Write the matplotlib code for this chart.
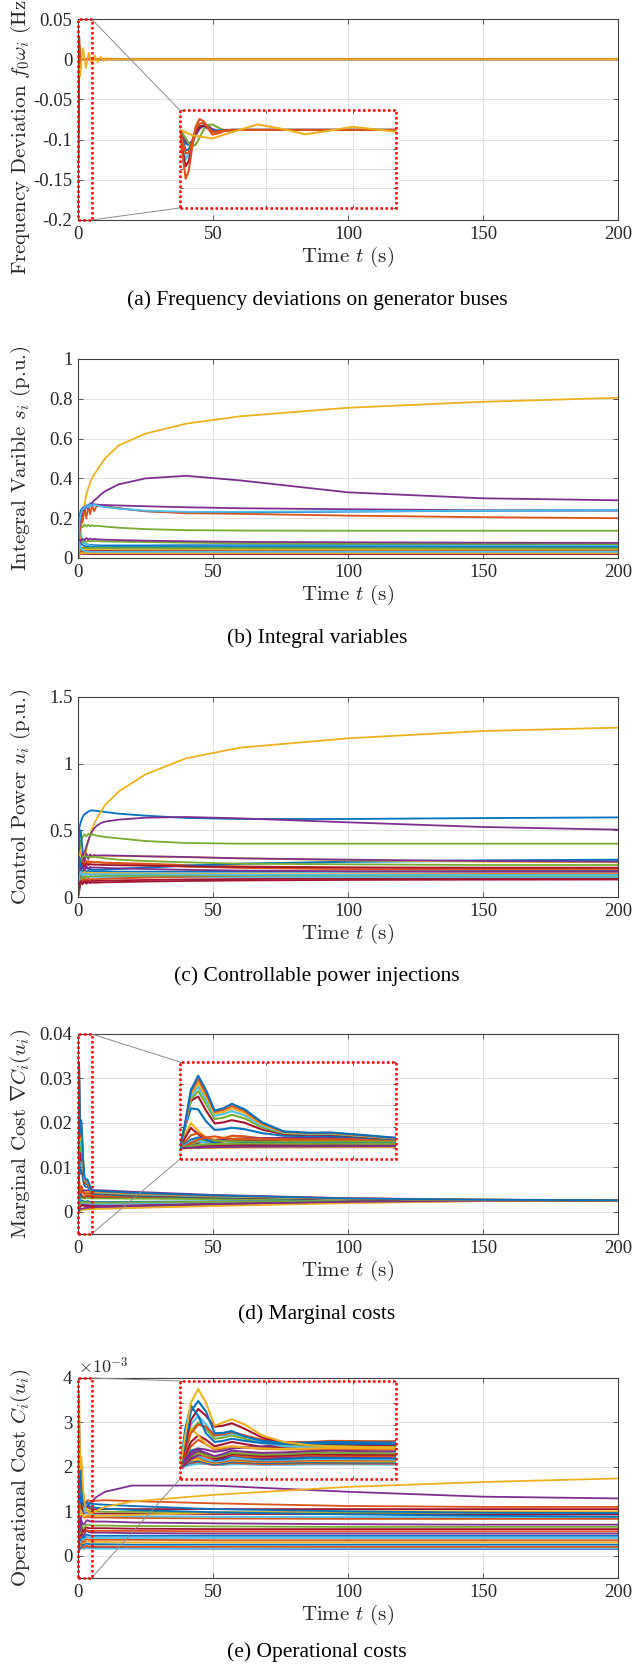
import numpy as np
import matplotlib.pyplot as plt
from matplotlib.patches import Rectangle

plt.rcParams['font.family'] = ['Liberation Serif', 'DejaVu Serif']
plt.rcParams['mathtext.fontset'] = 'cm'

# MATLAB default colour order
C = ['#0072BD', '#D95319', '#EDB120', '#7E2F8E', '#77AC30', '#4DBEEE', '#A2142F']

x_ticks = [0, 50, 100, 150, 200]

# ---------------- (a) frequency deviations (Hz) ----------------
a_t_fast = [0, 0.07, 0.13, 0.2, 0.28, 0.36, 0.45, 0.55, 0.65, 0.75, 0.9, 1.05, 1.2, 1.5, 200]
a_fast = [
    [0, -0.02, -0.035, -0.038, -0.028, -0.01, 0.005, 0.012, 0.009, 0.001, -0.003, -0.001, 0, 0, 0],
    [0, -0.018, -0.03, -0.035, -0.03, -0.014, 0.003, 0.011, 0.009, 0.002, -0.003, -0.001, 0, 0, 0],
    [0, -0.01, -0.022, -0.034, -0.042, -0.038, -0.02, 0.002, 0.013, 0.014, 0.005, -0.002, -0.001, 0, 0],
    [0, -0.045, -0.075, -0.062, -0.028, 0.0, 0.01, 0.009, 0.003, -0.002, -0.001, 0, 0, 0, 0],
    [0, -0.03, -0.052, -0.05, -0.03, -0.006, 0.008, 0.012, 0.006, -0.002, -0.002, 0, 0, 0, 0],
    [0, -0.06, -0.093, -0.08, -0.04, -0.005, 0.008, 0.011, 0.004, -0.004, -0.003, -0.001, 0, 0, 0],
    [0, -0.035, -0.06, -0.058, -0.03, 0.002, 0.016, 0.018, 0.006, -0.005, -0.004, -0.001, 0, 0, 0],
    [0, -0.075, -0.125, -0.105, -0.045, 0.008, 0.028, 0.022, 0.004, -0.012, -0.008, -0.002, 0, 0, 0],
]
a_fast_colors = [0, 3, 4, 5, 0, 6, 1, 1]
a_t_slow = [0, 0.3, 0.75, 1.25, 1.8, 2.35, 2.9, 3.45, 4.0, 4.55, 5.1, 5.65, 6.2, 6.75,
            7.3, 7.85, 8.4, 9.5, 10.6, 11.7, 13, 200]
a_slow = [0, -0.014, -0.022, -0.004, 0.014, 0.003, -0.011, -0.002, 0.008, 0.001, -0.006,
          -0.001, 0.005, 0, -0.004, 0, 0.003, -0.002, 0.0015, -0.001, 0, 0]
a_yticks = [-0.2, -0.15, -0.1, -0.05, 0, 0.05]
a_ylabels = ['-0.2', '-0.15', '-0.1', '-0.05', '0', '0.05']

# ---------------- (b) integral variables (p.u.) ----------------
b_t = [0, 0.5, 1, 1.7, 2.4, 3.1, 3.8, 4.5, 5.2, 6, 7, 8.5, 10, 15, 25, 40, 60, 100, 150, 200]
b_vals = [
    [0, 0.13, 0.1, 0.082, 0.074, 0.07, 0.067, 0.066, 0.065, 0.064, 0.064, 0.063, 0.063, 0.063, 0.063, 0.064, 0.064, 0.065, 0.065, 0.065],
    [0, 0.04, 0.055, 0.047, 0.054, 0.048, 0.052, 0.049, 0.051, 0.049, 0.05, 0.049, 0.049, 0.048, 0.048, 0.047, 0.047, 0.047, 0.046, 0.046],
    [0, 0.06, 0.13, 0.21, 0.27, 0.32, 0.35, 0.38, 0.40, 0.42, 0.44, 0.47, 0.50, 0.565, 0.625, 0.675, 0.712, 0.755, 0.785, 0.805],
    [0, 0.12, 0.19, 0.22, 0.245, 0.255, 0.26, 0.275, 0.275, 0.29, 0.30, 0.32, 0.335, 0.37, 0.4, 0.413, 0.39, 0.33, 0.30, 0.29],
    [0, 0.12, 0.165, 0.155, 0.168, 0.158, 0.167, 0.159, 0.165, 0.16, 0.162, 0.16, 0.158, 0.152, 0.145, 0.14, 0.138, 0.137, 0.137, 0.137],
    [0, 0.16, 0.12, 0.09, 0.076, 0.07, 0.066, 0.063, 0.061, 0.059, 0.058, 0.057, 0.056, 0.056, 0.056, 0.057, 0.058, 0.059, 0.06, 0.06],
    [0, 0.015, 0.02, 0.022, 0.02, 0.021, 0.02, 0.021, 0.02, 0.02, 0.02, 0.02, 0.02, 0.02, 0.02, 0.02, 0.02, 0.02, 0.02, 0.02],
    [0, 0.2, 0.24, 0.25, 0.255, 0.26, 0.265, 0.268, 0.27, 0.268, 0.265, 0.262, 0.258, 0.25, 0.235, 0.228, 0.229, 0.233, 0.237, 0.24],
    [0, 0.1, 0.21, 0.18, 0.25, 0.2, 0.26, 0.22, 0.265, 0.235, 0.265, 0.26, 0.258, 0.25, 0.235, 0.225, 0.222, 0.213, 0.205, 0.20],
    [0, 0.03, 0.038, 0.042, 0.039, 0.041, 0.04, 0.04, 0.04, 0.04, 0.04, 0.04, 0.04, 0.04, 0.04, 0.04, 0.04, 0.04, 0.039, 0.039],
    [0, 0.15, 0.22, 0.25, 0.24, 0.265, 0.25, 0.27, 0.26, 0.27, 0.268, 0.267, 0.266, 0.264, 0.26, 0.255, 0.25, 0.245, 0.24, 0.238],
    [0, 0.05, 0.075, 0.08, 0.086, 0.082, 0.087, 0.083, 0.086, 0.085, 0.085, 0.084, 0.083, 0.082, 0.08, 0.077, 0.074, 0.072, 0.071, 0.07],
    [0, 0.18, 0.22, 0.245, 0.25, 0.262, 0.255, 0.27, 0.262, 0.268, 0.264, 0.26, 0.256, 0.248, 0.238, 0.232, 0.232, 0.235, 0.238, 0.24],
    [0, 0.025, 0.033, 0.036, 0.034, 0.035, 0.034, 0.035, 0.035, 0.035, 0.035, 0.035, 0.035, 0.034, 0.034, 0.034, 0.033, 0.033, 0.033, 0.033],
    [0, 0.09, 0.075, 0.065, 0.06, 0.058, 0.056, 0.055, 0.055, 0.055, 0.054, 0.054, 0.054, 0.054, 0.054, 0.054, 0.054, 0.055, 0.055, 0.055],
    [0, 0.02, 0.028, 0.031, 0.029, 0.03, 0.029, 0.03, 0.03, 0.03, 0.03, 0.03, 0.03, 0.03, 0.03, 0.03, 0.029, 0.029, 0.029, 0.029],
    [0, 0.018, 0.024, 0.026, 0.025, 0.025, 0.025, 0.025, 0.025, 0.025, 0.025, 0.025, 0.025, 0.025, 0.025, 0.025, 0.025, 0.025, 0.025, 0.025],
    [0, 0.06, 0.09, 0.095, 0.09, 0.1, 0.092, 0.098, 0.093, 0.096, 0.094, 0.093, 0.092, 0.09, 0.087, 0.084, 0.081, 0.079, 0.077, 0.076],
    [0, 0.035, 0.045, 0.05, 0.049, 0.05, 0.05, 0.05, 0.05, 0.05, 0.05, 0.05, 0.05, 0.049, 0.049, 0.049, 0.049, 0.049, 0.048, 0.048],
    [0, 0.08, 0.05, 0.04, 0.035, 0.033, 0.032, 0.031, 0.031, 0.031, 0.031, 0.031, 0.031, 0.031, 0.031, 0.031, 0.031, 0.031, 0.031, 0.031],
]
b_yticks = [0, 0.2, 0.4, 0.6, 0.8, 1]
b_ylabels = ['0', '0.2', '0.4', '0.6', '0.8', '1']

# ---------------- (c) control power (p.u.) ----------------
c_t = b_t
c_vals = [
    [0, 0.52, 0.56, 0.6, 0.62, 0.63, 0.64, 0.648, 0.65, 0.648, 0.645, 0.642, 0.638, 0.625, 0.61, 0.593, 0.585, 0.585, 0.592, 0.597],
    [0, 0.2, 0.26, 0.22, 0.28, 0.24, 0.27, 0.25, 0.265, 0.258, 0.262, 0.26, 0.258, 0.255, 0.25, 0.24, 0.23, 0.22, 0.213, 0.21],
    [0, 0.05, 0.1, 0.17, 0.27, 0.36, 0.42, 0.47, 0.51, 0.55, 0.59, 0.64, 0.69, 0.79, 0.92, 1.04, 1.12, 1.19, 1.245, 1.27],
    [0, 0.05, 0.12, 0.25, 0.33, 0.38, 0.42, 0.46, 0.49, 0.515, 0.535, 0.555, 0.565, 0.58, 0.595, 0.6, 0.59, 0.56, 0.525, 0.505],
    [0, 0.3, 0.42, 0.45, 0.47, 0.455, 0.475, 0.46, 0.47, 0.465, 0.46, 0.455, 0.45, 0.44, 0.42, 0.405, 0.4, 0.4, 0.4, 0.4],
    [0, 0.25, 0.22, 0.2, 0.19, 0.195, 0.19, 0.195, 0.195, 0.197, 0.2, 0.203, 0.206, 0.212, 0.222, 0.235, 0.248, 0.262, 0.27, 0.272],
    [0, 0.08, 0.14, 0.1, 0.13, 0.11, 0.125, 0.115, 0.122, 0.12, 0.121, 0.122, 0.123, 0.125, 0.128, 0.132, 0.135, 0.138, 0.14, 0.14],
    [0, 0.45, 0.5, 0.35, 0.25, 0.22, 0.21, 0.21, 0.205, 0.205, 0.205, 0.205, 0.205, 0.21, 0.22, 0.235, 0.25, 0.265, 0.275, 0.28],
    [0, 0.15, 0.24, 0.28, 0.24, 0.27, 0.255, 0.265, 0.26, 0.262, 0.26, 0.258, 0.256, 0.25, 0.24, 0.228, 0.218, 0.208, 0.202, 0.2],
    [0, 0.3, 0.35, 0.3, 0.32, 0.305, 0.315, 0.31, 0.312, 0.31, 0.31, 0.31, 0.31, 0.308, 0.305, 0.3, 0.29, 0.275, 0.265, 0.26],
    [0, 0.15, 0.25, 0.33, 0.27, 0.325, 0.285, 0.32, 0.3, 0.315, 0.31, 0.312, 0.312, 0.31, 0.305, 0.3, 0.29, 0.28, 0.27, 0.265],
    [0, 0.2, 0.28, 0.3, 0.31, 0.3, 0.305, 0.3, 0.3, 0.3, 0.298, 0.295, 0.29, 0.28, 0.27, 0.26, 0.25, 0.245, 0.24, 0.24],
    [0, 0.2, 0.17, 0.15, 0.16, 0.15, 0.155, 0.15, 0.152, 0.15, 0.15, 0.15, 0.15, 0.15, 0.15, 0.15, 0.15, 0.15, 0.15, 0.15],
    [0, 0.15, 0.2, 0.25, 0.23, 0.25, 0.24, 0.245, 0.243, 0.243, 0.242, 0.241, 0.24, 0.238, 0.235, 0.23, 0.226, 0.222, 0.22, 0.22],
    [0, 0.3, 0.22, 0.18, 0.2, 0.185, 0.195, 0.19, 0.192, 0.19, 0.19, 0.19, 0.19, 0.19, 0.19, 0.19, 0.19, 0.19, 0.192, 0.193],
    [0, 0.1, 0.16, 0.12, 0.15, 0.125, 0.14, 0.13, 0.135, 0.133, 0.134, 0.135, 0.136, 0.14, 0.145, 0.152, 0.16, 0.168, 0.173, 0.175],
    [0, 0.12, 0.2, 0.17, 0.19, 0.175, 0.185, 0.18, 0.182, 0.18, 0.18, 0.18, 0.18, 0.178, 0.176, 0.174, 0.172, 0.17, 0.17, 0.17],
    [0, 0.12, 0.2, 0.24, 0.2, 0.23, 0.21, 0.225, 0.22, 0.222, 0.22, 0.22, 0.218, 0.215, 0.21, 0.204, 0.198, 0.193, 0.19, 0.19],
    [0, 0.1, 0.13, 0.15, 0.14, 0.155, 0.15, 0.158, 0.155, 0.157, 0.157, 0.158, 0.158, 0.159, 0.16, 0.16, 0.16, 0.16, 0.16, 0.16],
    [0, 0.15, 0.19, 0.17, 0.175, 0.17, 0.172, 0.17, 0.171, 0.17, 0.17, 0.17, 0.17, 0.17, 0.17, 0.168, 0.166, 0.165, 0.165, 0.165],
    [0, 0.1, 0.12, 0.095, 0.115, 0.1, 0.11, 0.105, 0.108, 0.107, 0.108, 0.109, 0.11, 0.112, 0.116, 0.12, 0.124, 0.128, 0.13, 0.131],
]
c_yticks = [0, 0.5, 1, 1.5]
c_ylabels = ['0', '0.5', '1', '1.5']

# ---------------- (d) marginal costs (values x 1e-3) ----------------
d_t = [0, 0.12, 0.25, 0.42, 0.6, 0.8, 1.0, 1.2, 1.5, 1.9, 2.4, 3.0, 3.5, 4.2, 5, 7, 10, 20, 50, 100, 150, 200]
d_lower = [
    [0, 6, 11.7, 8, 5, 4, 4.8, 5.5, 5.2, 4.6, 4.4, 4.5, 4.6, 4.3, 3.9, 3.8, 3.7, 3.5, 3.1, 2.8, 2.65, 2.6],
    [0, 5, 9.4, 6.5, 3.5, 2.5, 3.2, 3.8, 3.6, 3.3, 3.2, 3.4, 3.5, 3.4, 3.3, 3.3, 3.3, 3.2, 3.0, 2.75, 2.65, 2.6],
    [0, 3, 6, 7, 5, 3.5, 4.5, 5.8, 5.5, 4.5, 3.8, 3.6, 3.8, 3.7, 3.6, 3.6, 3.5, 3.4, 3.1, 2.8, 2.65, 2.6],
    [0, 0.5, 1.5, 2.5, 3.2, 3.5, 3.8, 4.2, 4.5, 4.7, 4.8, 4.8, 4.85, 4.85, 4.85, 4.85, 4.8, 4.5, 3.8, 3.05, 2.75, 2.6],
    [0, 1, 2, 3, 3.5, 3.5, 3.3, 3.2, 3.1, 3.0, 3.0, 3.05, 3.1, 3.05, 3.0, 3.0, 3.0, 2.95, 2.85, 2.7, 2.6, 2.6],
    [0, 0.1, 0.2, 0.3, 0.4, 0.5, 0.55, 0.6, 0.65, 0.7, 0.7, 0.72, 0.75, 0.75, 0.75, 0.78, 0.8, 0.95, 1.4, 2.05, 2.45, 2.55],
    [0, 2, 4, 5, 4, 2.5, 2.0, 2.2, 2.5, 2.4, 2.3, 2.3, 2.4, 2.3, 2.2, 2.2, 2.2, 2.25, 2.35, 2.5, 2.58, 2.6],
    [0, 1.5, 3, 3.5, 2.5, 1.5, 1.5, 1.8, 2.0, 1.9, 1.8, 1.8, 1.85, 1.8, 1.75, 1.75, 1.75, 1.85, 2.1, 2.4, 2.55, 2.6],
    [0, 0.3, 0.7, 1.0, 1.2, 1.3, 1.4, 1.5, 1.6, 1.6, 1.55, 1.5, 1.5, 1.45, 1.4, 1.38, 1.35, 1.45, 1.8, 2.3, 2.5, 2.58],
    [0, 0.2, 0.4, 0.7, 1.0, 1.1, 1.2, 1.4, 1.5, 1.4, 1.3, 1.25, 1.3, 1.25, 1.2, 1.2, 1.2, 1.3, 1.7, 2.2, 2.45, 2.55],
    [0, 1, 2.5, 4, 5, 5.5, 4.8, 4.2, 4.3, 4.4, 4.2, 4.1, 4.2, 4.1, 4.0, 4.0, 4.0, 3.8, 3.4, 2.9, 2.7, 2.6],
    [0, 0.5, 1, 1.5, 1.8, 1.9, 2.0, 2.1, 2.2, 2.2, 2.15, 2.1, 2.15, 2.1, 2.05, 2.05, 2.05, 2.1, 2.25, 2.45, 2.55, 2.6],
    [0, 0, 0.05, 0.1, 0.15, 0.2, 0.25, 0.3, 0.35, 0.4, 0.45, 0.5, 0.52, 0.55, 0.58, 0.62, 0.68, 0.85, 1.3, 1.95, 2.4, 2.55],
    [0, 0.1, 0.2, 0.3, 0.4, 0.5, 0.6, 0.65, 0.7, 0.75, 0.8, 0.85, 0.9, 0.95, 1.0, 1.05, 1.1, 1.3, 1.75, 2.25, 2.5, 2.58],
]
d_lower_colors = [2, 6, 1, 3, 4, 2, 0, 5, 3, 6, 1, 4, 2, 3]
d_family = [
    [0, 12, 27, 33.6, 27, 17.5, 18.5, 20.6, 18, 12, 7.8, 7.2, 7.3, 6.2, 4.8, 4.7, 4.6, 4.3, 3.7, 3.0, 2.7, 2.6],
    [0, 11.5, 26, 32, 25.5, 16.8, 17.8, 19.6, 17.2, 11.5, 7.6, 7.0, 7.1, 6.0, 4.7, 4.6, 4.5, 4.2, 3.6, 3.0, 2.7, 2.6],
    [0, 11, 25, 30.2, 24, 16, 16.8, 18.5, 16.3, 11, 7.4, 6.9, 7.0, 5.9, 4.6, 4.5, 4.4, 4.1, 3.6, 2.9, 2.7, 2.6],
    [0, 10.5, 24, 28.5, 22.5, 15, 15.8, 17.2, 15.2, 10.4, 7.2, 6.7, 6.8, 5.8, 4.5, 4.4, 4.3, 4.0, 3.5, 2.9, 2.7, 2.6],
    [0, 10, 22.5, 26.5, 20.5, 13.5, 14.2, 15.5, 13.8, 9.6, 7.0, 6.5, 6.6, 5.6, 4.4, 4.3, 4.2, 3.9, 3.4, 2.9, 2.7, 2.6],
    [0, 11, 22, 24, 17.5, 11.5, 12.0, 13.0, 11.8, 8.6, 6.6, 6.2, 6.3, 5.4, 4.3, 4.2, 4.1, 3.8, 3.3, 2.8, 2.65, 2.6],
    [0, 10, 18.5, 18, 12.5, 8.5, 8.8, 9.5, 8.8, 7.0, 5.8, 5.6, 5.7, 5.0, 4.1, 4.0, 3.9, 3.6, 3.2, 2.8, 2.65, 2.6],
]
d_family_colors = [0, 1, 2, 5, 4, 6, 0]
d_yticks = [0, 0.01, 0.02, 0.03, 0.04]
d_ylabels = ['0', '0.01', '0.02', '0.03', '0.04']

# ---------------- (e) operational costs (values x 1e-3) ----------------
e_t = d_t
e_vals = [
    [0, 1.5, 3.0, 3.63, 3.0, 1.95, 2.1, 2.24, 2.0, 1.5, 1.2, 1.05, 1.0, 0.97, 0.95, 1.02, 1.10, 1.22, 1.37, 1.55, 1.66, 1.74],
    [0, 1.2, 2.6, 3.08, 2.6, 1.6, 1.62, 1.7, 1.45, 1.25, 1.15, 1.17, 1.2, 1.18, 1.17, 1.16, 1.15, 1.12, 1.05, 1.0, 0.97, 0.96],
    [0, 1.8, 2.87, 2.4, 1.6, 1.2, 1.25, 1.35, 1.25, 1.15, 1.12, 1.12, 1.13, 1.12, 1.1, 1.08, 1.06, 1.03, 0.98, 0.93, 0.9, 0.88],
    [0, 1.0, 2.2, 2.72, 2.4, 1.9, 1.95, 2.06, 1.8, 1.4, 1.15, 1.08, 1.1, 1.07, 1.05, 1.05, 1.05, 1.05, 1.05, 1.05, 1.05, 1.05],
    [0, 0.8, 1.6, 2.0, 1.9, 1.5, 1.55, 1.65, 1.5, 1.3, 1.2, 1.2, 1.25, 1.24, 1.23, 1.24, 1.25, 1.23, 1.18, 1.12, 1.1, 1.1],
    [0, 1.0, 1.83, 1.5, 1.1, 0.9, 0.95, 1.0, 0.95, 0.9, 0.88, 0.9, 0.92, 0.91, 0.9, 0.9, 0.9, 0.92, 0.97, 1.0, 1.0, 1.0],
    [0, 0.9, 2.0, 2.4, 2.0, 1.5, 1.5, 1.6, 1.45, 1.2, 1.0, 0.95, 0.95, 0.93, 0.92, 0.91, 0.9, 0.89, 0.88, 0.87, 0.87, 0.87],
    [0, 0.8, 1.7, 2.1, 1.8, 1.35, 1.4, 1.5, 1.35, 1.15, 1.05, 1.02, 1.03, 1.01, 1.0, 1.0, 0.99, 0.99, 0.98, 0.97, 0.97, 0.97],
    [0, 0.4, 0.7, 0.9, 0.85, 0.75, 0.8, 0.9, 0.95, 1.0, 1.05, 1.1, 1.13, 1.17, 1.22, 1.33, 1.44, 1.58, 1.58, 1.44, 1.33, 1.29],
    [0, 0.6, 1.2, 1.5, 1.3, 1.0, 1.1, 1.2, 1.1, 0.98, 0.95, 0.96, 0.97, 0.96, 0.95, 0.95, 0.95, 0.95, 0.94, 0.94, 0.93, 0.93],
    [0, 0.5, 1.0, 1.3, 1.1, 0.85, 0.9, 1.0, 0.95, 0.88, 0.86, 0.87, 0.88, 0.87, 0.86, 0.86, 0.86, 0.85, 0.84, 0.83, 0.83, 0.83],
    [0, 0.3, 0.6, 0.8, 0.7, 0.55, 0.65, 0.8, 0.75, 0.7, 0.72, 0.78, 0.8, 0.78, 0.77, 0.77, 0.77, 0.75, 0.73, 0.71, 0.7, 0.7],
    [0, 0.3, 0.55, 0.7, 0.6, 0.5, 0.58, 0.7, 0.66, 0.62, 0.64, 0.7, 0.7, 0.69, 0.68, 0.68, 0.68, 0.67, 0.66, 0.65, 0.65, 0.65],
    [0, 0.2, 0.5, 0.75, 0.65, 0.45, 0.5, 0.65, 0.62, 0.55, 0.58, 0.64, 0.63, 0.62, 0.62, 0.62, 0.62, 0.61, 0.6, 0.6, 0.6, 0.6],
    [0, 0.3, 0.6, 0.7, 0.5, 0.4, 0.55, 0.6, 0.52, 0.5, 0.56, 0.58, 0.57, 0.56, 0.56, 0.56, 0.56, 0.56, 0.55, 0.55, 0.55, 0.55],
    [0, 0.2, 0.4, 0.6, 0.55, 0.4, 0.45, 0.6, 0.55, 0.45, 0.5, 0.56, 0.55, 0.53, 0.52, 0.52, 0.52, 0.51, 0.5, 0.5, 0.5, 0.5],
    [0, 0.4, 0.8, 0.9, 0.6, 0.35, 0.4, 0.55, 0.5, 0.4, 0.42, 0.48, 0.47, 0.46, 0.45, 0.45, 0.45, 0.45, 0.45, 0.45, 0.45, 0.45],
    [0, 0.3, 0.6, 0.55, 0.4, 0.3, 0.35, 0.45, 0.42, 0.36, 0.38, 0.42, 0.42, 0.41, 0.4, 0.4, 0.4, 0.4, 0.4, 0.4, 0.4, 0.4],
    [0, 0.2, 0.45, 0.5, 0.35, 0.25, 0.3, 0.4, 0.36, 0.3, 0.32, 0.37, 0.37, 0.36, 0.36, 0.36, 0.36, 0.36, 0.35, 0.35, 0.35, 0.35],
    [0, 0.2, 0.35, 0.4, 0.3, 0.22, 0.28, 0.35, 0.32, 0.28, 0.3, 0.33, 0.32, 0.31, 0.31, 0.31, 0.31, 0.3, 0.3, 0.3, 0.3, 0.3],
    [0, 0.15, 0.3, 0.35, 0.25, 0.18, 0.22, 0.3, 0.28, 0.24, 0.25, 0.28, 0.27, 0.26, 0.26, 0.26, 0.26, 0.25, 0.25, 0.25, 0.25, 0.25],
    [0, 0.15, 0.25, 0.3, 0.22, 0.15, 0.2, 0.25, 0.22, 0.19, 0.2, 0.22, 0.22, 0.21, 0.21, 0.21, 0.21, 0.2, 0.2, 0.2, 0.2, 0.2],
    [0, 0.1, 0.15, 0.2, 0.2, 0.15, 0.15, 0.18, 0.18, 0.16, 0.16, 0.17, 0.17, 0.17, 0.16, 0.16, 0.16, 0.16, 0.16, 0.16, 0.16, 0.16],
    [0, 0.1, 0.2, 0.25, 0.2, 0.15, 0.18, 0.22, 0.2, 0.17, 0.18, 0.2, 0.2, 0.19, 0.19, 0.19, 0.18, 0.17, 0.16, 0.15, 0.15, 0.15],
]
e_colors = [2, 0, 0, 6, 1, 2, 5, 4, 3, 6, 1, 3, 4, 6, 1, 3, 0, 5, 1, 2, 0, 1, 5, 3]
e_yticks = [0, 1, 2, 3, 4]
e_ylabels = ['0', '1', '2', '3', '4']

captions = ['(a) Frequency deviations on generator buses', '(b) Integral variables',
            '(c) Controllable power injections', '(d) Marginal costs', '(e) Operational costs']

# ---------------- build series lists ----------------
a_series = [(a_t_fast, y, C[c]) for y, c in zip(a_fast, a_fast_colors)]
a_series.append((a_t_slow, a_slow, C[2]))
b_series = [(b_t, y, C[i % 7]) for i, y in enumerate(b_vals)]
c_series = [(c_t, y, C[i % 7]) for i, y in enumerate(c_vals)]
d_series = [(d_t, np.array(y) * 1e-3, C[c]) for y, c in zip(d_lower, d_lower_colors)]
d_series += [(d_t, np.array(y) * 1e-3, C[c]) for y, c in
             reversed(list(zip(d_family, d_family_colors)))]
e_series = [(e_t, y, C[c]) for y, c in reversed(list(zip(e_vals, e_colors)))]

# ---------------- figure ----------------
W, H = 634, 1668
fig = plt.figure(figsize=(W / 100, H / 100), dpi=100)
CM = 'cmr10'


def make_axes(top, bottom):
    return fig.add_axes([78 / W, 1 - bottom / H, 540 / W, (bottom - top) / H])


def style(ax, ylim, yticks, ylabels, ylabel, label_y=0.5):
    ax.set_xlim(0, 200)
    ax.set_ylim(*ylim)
    ax.set_xticks(x_ticks)
    ax.set_xticklabels([str(v) for v in x_ticks])
    ax.set_yticks(yticks)
    ax.set_yticklabels(ylabels)
    ax.grid(True, color='#e2e2e2', lw=0.7)
    ax.set_axisbelow(True)
    ax.tick_params(direction='in', top=True, right=True, length=3.5, width=0.6,
                   labelsize=13.5, color='#404040', labelcolor='#262626', pad=4)
    for s in ax.spines.values():
        s.set_color('#404040')
        s.set_linewidth(0.8)
    ax.set_ylabel(ylabel, fontsize=15, color='#262626', fontfamily=CM)
    ax.yaxis.set_label_coords(-0.084, label_y)
    ax.set_xlabel(r'Time $t$ (s)', fontsize=15, color='#262626', fontfamily=CM, labelpad=2)


def draw(ax, series, lw=1.3):
    for t, y, col in series:
        ax.plot(t, y, color=col, lw=lw)


def zoom(ax, series, ylim, yticks, box):
    ax.add_patch(Rectangle((0, ylim[0]), 5, ylim[1] - ylim[0], fill=False, ec='red',
                           ls=(0, (1, 1)), lw=1.8, clip_on=False, zorder=6))
    x0, y0, w, h = box
    xr = 5 / 200
    ax.plot([xr, x0], [1, y0 + h], transform=ax.transAxes, color='#8a8a8a', lw=0.7,
            clip_on=False, zorder=4)
    ax.plot([xr, x0], [0, y0], transform=ax.transAxes, color='#8a8a8a', lw=0.7,
            clip_on=False, zorder=4)
    ins = ax.inset_axes(box)
    draw(ins, series, lw=1.5)
    ins.set_xlim(0, 5)
    ins.set_ylim(*ylim)
    ins.set_xticks([0, 2, 4])
    ins.set_yticks(yticks)
    ins.set_xticklabels([])
    ins.set_yticklabels([])
    ins.grid(True, color='#e2e2e2', lw=0.7)
    ins.set_axisbelow(True)
    ins.tick_params(direction='in', top=True, right=True, length=2.5, width=0.6, color='#404040')
    for s in ins.spines.values():
        s.set_visible(False)
    ins.add_patch(Rectangle((0, 0), 1, 1, transform=ins.transAxes, fill=False, ec='red',
                            ls=(0, (1, 1)), lw=1.8, clip_on=False, zorder=10))


# (a)
ax = make_axes(19, 220)
draw(ax, a_series)
style(ax, (-0.2, 0.05), a_yticks, a_ylabels, r'Frequency Deviation $f_0\omega_i$ (Hz)',
      label_y=0.43)
zoom(ax, a_series, (-0.2, 0.05), a_yticks, [0.189, 0.06, 0.40, 0.485])

# (b)
ax = make_axes(359, 558)
draw(ax, b_series)
style(ax, (0, 1), b_yticks, b_ylabels, r'Integral Varible $s_i$ (p.u.)')

# (c)
ax = make_axes(697, 897)
draw(ax, c_series)
style(ax, (0, 1.5), c_yticks, c_ylabels, r'Control Power $u_i$ (p.u.)')

# (d)
ax = make_axes(1034, 1234)
draw(ax, d_series)
style(ax, (-0.005, 0.04), d_yticks, d_ylabels, r'Marginal Cost $\nabla C_i(u_i)$')
zoom(ax, d_series, (-0.005, 0.04), d_yticks, [0.189, 0.375, 0.40, 0.485])

# (e)
ax = make_axes(1378, 1578)
draw(ax, e_series)
style(ax, (-0.5, 4), e_yticks, e_ylabels, r'Operational Cost $C_i(u_i)$')
ax.text(0.0, 1.005, r'$\times10^{-3}$', transform=ax.transAxes, fontsize=13,
        color='#262626', ha='left', va='bottom')
zoom(ax, e_series, (-0.5, 4), e_yticks, [0.189, 0.495, 0.40, 0.49])

for cap, yc in zip(captions, [300, 638, 976, 1314, 1652]):
    fig.text(0.5, 1 - yc / H, cap, ha='center', va='center', fontsize=15.5)

fig.savefig('out.png', dpi=100)
